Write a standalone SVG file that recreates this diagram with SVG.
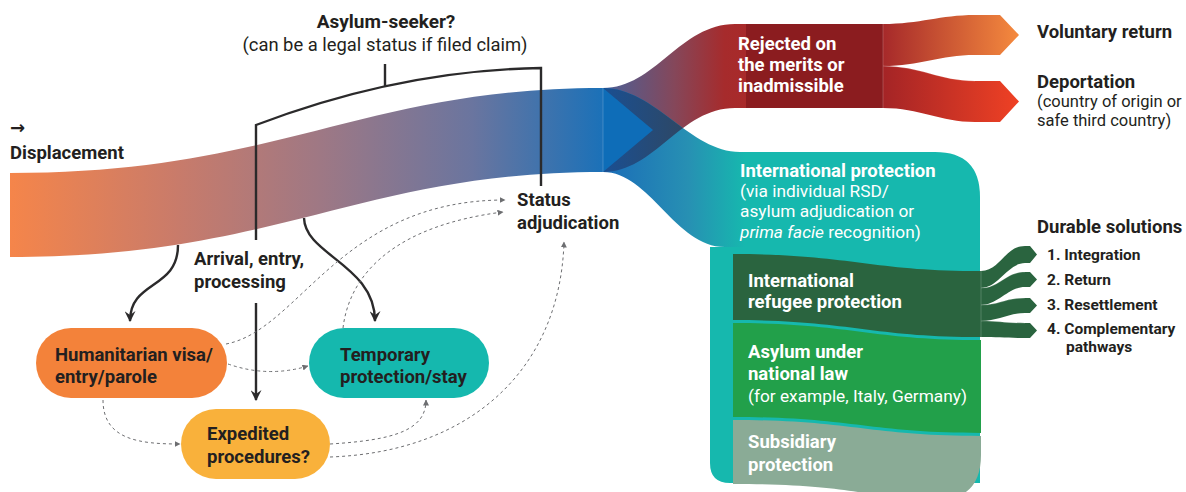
<svg xmlns="http://www.w3.org/2000/svg" width="1186" height="492" viewBox="0 0 1186 492">
<style>
.t{font-family:Roboto,"Liberation Sans",sans-serif;fill:#231f20}
.b{font-weight:700;font-size:18.5px}
.r{font-weight:400;font-size:17.3px}
.w{fill:#ffffff}
.d{font-weight:700;font-size:15.5px}
.sol{fill:none;stroke:#2b2a2b;stroke-width:2.4}
.dash{fill:none;stroke:#6d6e71;stroke-width:1;stroke-dasharray:3 3}
.sep{fill:none;stroke:#ffffff;stroke-opacity:0.25;stroke-width:0.8}
</style>
<defs>
<linearGradient id="gMain" gradientUnits="userSpaceOnUse" x1="10" y1="0" x2="603" y2="0">
<stop offset="0" stop-color="#f5854a"/>
<stop offset="0.28" stop-color="#c97b6a"/>
<stop offset="0.52" stop-color="#9f7884"/>
<stop offset="0.78" stop-color="#6a759f"/>
<stop offset="1" stop-color="#1b71b8"/>
</linearGradient>
<linearGradient id="gA" gradientUnits="userSpaceOnUse" x1="603" y1="0" x2="746" y2="0">
<stop offset="0" stop-color="#4a6098"/>
<stop offset="0.5" stop-color="#85475a"/>
<stop offset="0.85" stop-color="#a62b2c"/>
<stop offset="1" stop-color="#a82a2a"/>
</linearGradient>
<linearGradient id="gB" gradientUnits="userSpaceOnUse" x1="603" y1="0" x2="745" y2="0">
<stop offset="0" stop-color="#1b6cb8"/>
<stop offset="0.6" stop-color="#2790b3"/>
<stop offset="1" stop-color="#16b8ae"/>
</linearGradient>
<linearGradient id="gX" gradientUnits="userSpaceOnUse" x1="603" y1="0" x2="688" y2="0">
<stop offset="0" stop-color="#1a4f92"/>
<stop offset="1" stop-color="#2f4762"/>
</linearGradient>
<linearGradient id="gV" gradientUnits="userSpaceOnUse" x1="883" y1="0" x2="1019" y2="0">
<stop offset="0" stop-color="#a6292a"/>
<stop offset="1" stop-color="#f58a3e"/>
</linearGradient>
<linearGradient id="gD" gradientUnits="userSpaceOnUse" x1="883" y1="0" x2="1019" y2="0">
<stop offset="0" stop-color="#a42426"/>
<stop offset="1" stop-color="#ef4124"/>
</linearGradient>
<clipPath id="clipA">
<path d="M603,88 C655,88 680,24 735,24 L883,24 L883,108 L735,108 C680,108 655,172 603,172 Z"/>
</clipPath>
<marker id="mS" viewBox="0 0 10 10" refX="9" refY="5" markerWidth="11" markerHeight="11" markerUnits="userSpaceOnUse" orient="auto">
<path d="M10,5 L0,0 L3.5,5 L0,10 Z" fill="#2b2a2b"/>
</marker>
<marker id="mD" viewBox="0 0 6 6" refX="5.5" refY="3" markerWidth="6" markerHeight="6" markerUnits="userSpaceOnUse" orient="auto">
<path d="M6,3 L0,0 L0,6 Z" fill="#6d6e71"/>
</marker>
</defs>

<g id="displacement-flow">
<path d="M10,173 C280,173 360,88 603,88 L603,172 C360,172 280,257 10,257 Z" fill="url(#gMain)"/>
<text x="10" y="134" style="font-family:'DejaVu Sans',sans-serif;font-weight:700;font-size:18px;fill:#231f20">→</text>
<text class="t b" x="10" y="159">Displacement</text>
</g>

<g id="rejected">
<path d="M603,88 C655,88 680,24 735,24 L883,24 L883,108 L735,108 C680,108 655,172 603,172 Z" fill="url(#gA)"/>
<rect x="746" y="24" width="137" height="84" fill="#8b1c1f"/>
<text class="t b w" x="738" y="50">Rejected on</text>
<text class="t b w" x="738" y="71">the merits or</text>
<text class="t b w" x="738" y="92">inadmissible</text>
</g>

<g id="voluntary-return">
<path d="M883,24 C920,24 940,15 975,15 L1000,15 L1019,35 L1000,55 L975,55 C940,55 920,66 883,66 Z" fill="url(#gV)"/>
<text class="t b" x="1037" y="38">Voluntary return</text>
</g>

<g id="deportation">
<path d="M883,66 C920,66 940,81 975,81 L1000,81 L1019,101.5 L1000,122 L975,122 C940,122 920,108 883,108 Z" fill="url(#gD)"/>
<path class="sep" d="M883,24 V108 M883,66 C920,66 940,81 975,81"/>
<text class="t b" x="1037" y="88">Deportation</text>
<text class="t" x="1037" y="107" style="font-size:16.5px">(country of origin or</text>
<text class="t" x="1037" y="126" style="font-size:16.5px">safe third country)</text>
</g>

<g id="international-protection">
<path d="M725,152 L935,152 Q980,152 980,197 L980,483 L730,483 Q710,483 710,463 L710,247 L725,247 Z" fill="#16b8ae"/>
<path d="M603,88 C655,88 690,152 740,152 L760,152 L760,247 L725,247 C675,247 650,172 603,172 Z" fill="url(#gB)"/>
<path d="M603,88 C655,88 690,152 740,152 L760,152 L760,247 L725,247 C675,247 650,172 603,172 Z" fill="url(#gX)" clip-path="url(#clipA)"/>
<path d="M603,88 L653,130 L603,172 Z" fill="#0e6db8"/>
<path class="sep" d="M603,88 V172"/>
<text class="t b w" x="740" y="177">International protection</text>
<text class="t r w" x="740" y="197">(via individual RSD/</text>
<text class="t r w" x="740" y="217">asylum adjudication or</text>
<text class="t r w" x="740" y="238"><tspan font-style="italic">prima facie</tspan> recognition)</text>
</g>

<g id="refugee-protection">
<path d="M733,254 C850,254 870,271 981,271 L981,337 C870,337 850,320 733,320 Z" fill="#2a643f"/>
<path d="M981,271 C1000,271 1005,246 1025,246 L1030,246 L1037,254.5 L1030,263 L1025,263 C1008,263 998,288 981,288 Z" fill="#2a643f"/>
<path d="M981,288 C1000,288 1005,272 1025,272 L1030,272 L1037,279.5 L1030,287 L1025,287 C1008,287 998,305 981,305 Z" fill="#2a643f"/>
<path d="M981,305 C1000,305 1005,298 1025,298 L1030,298 L1037,305.5 L1030,313 L1025,313 C1008,313 998,321 981,321 Z" fill="#2a643f"/>
<path d="M981,321 C1000,321 1005,323 1025,323 L1030,323 L1037,330.5 L1030,338 L1025,338 C1008,338 998,337 981,337 Z" fill="#2a643f"/>
<path class="sep" d="M981,271 V337 M981,288 C1000,288 1005,272 1025,272 M981,305 C1000,305 1005,298 1025,298 M981,321 C1000,321 1005,323 1025,323"/>
<text class="t b w" x="748" y="287">International</text>
<text class="t b w" x="748" y="308">refugee protection</text>
</g>

<g id="durable-solutions">
<text class="t b" x="1037" y="233">Durable solutions</text>
<text class="t d" x="1047" y="260">1. Integration</text>
<text class="t d" x="1047" y="285">2. Return</text>
<text class="t d" x="1047" y="310">3. Resettlement</text>
<text class="t d" x="1047" y="334">4. Complementary</text>
<text class="t d" x="1066" y="352">pathways</text>
</g>

<g id="national-asylum">
<path d="M733,323 C850,323 870,340 981,340 L981,433 C870,433 850,417 733,417 Z" fill="#22a04a"/>
<text class="t b w" x="748" y="358">Asylum under</text>
<text class="t b w" x="748" y="380">national law</text>
<text class="t r w" x="748" y="402">(for example, Italy, Germany)</text>
</g>

<g id="subsidiary-protection">
<path d="M733,420 C850,420 870,436 981,436 L981,455 Q981,500 936,500 C860,497 850,484 733,484 Z" fill="#8aab96"/>
<text class="t b w" x="748" y="448">Subsidiary</text>
<text class="t b w" x="748" y="471">protection</text>
</g>

<g id="asylum-seeker">
<path class="sol" d="M256,240 L256,125 Q400,70 541,68 L541,186 M385,86 L385,64"/>
<text class="t" x="386" y="28" text-anchor="middle" style="font-weight:700;font-size:19px">Asylum-seeker?</text>
<text class="t" x="385" y="51" text-anchor="middle" style="font-size:18.4px">(can be a legal status if filed claim)</text>
</g>

<g id="arrival">
<text class="t b" x="194" y="265">Arrival, entry,</text>
<text class="t b" x="194" y="288">processing</text>
</g>

<g id="status-adjudication">
<text class="t b" x="517" y="206">Status</text>
<text class="t b" x="517" y="229">adjudication</text>
</g>

<g id="humanitarian">
<rect x="36" y="328" width="191" height="70" rx="35" fill="#f3823a"/>
<text class="t b" x="55" y="361">Humanitarian visa/</text>
<text class="t b" x="55" y="383">entry/parole</text>
</g>

<g id="temporary">
<rect x="309" y="328" width="180" height="70" rx="35" fill="#15b8ae"/>
<text class="t b" x="340" y="361">Temporary</text>
<text class="t b" x="340" y="383">protection/stay</text>
</g>

<g id="expedited">
<rect x="181" y="409" width="149" height="70" rx="35" fill="#f9b13b"/>
<text class="t b" x="207" y="440">Expedited</text>
<text class="t b" x="207" y="463">procedures?</text>
</g>

<g id="connectors">
<path class="sol" d="M178,245 C178,290 130,280 130,321" marker-end="url(#mS)"/>
<path class="sol" d="M304,218 C305,255 375,265 375,321" marker-end="url(#mS)"/>
<path class="sol" d="M256,303 L256,400" marker-end="url(#mS)"/>
<path class="dash" d="M226,344 C300,330 340,200 505,200" marker-end="url(#mD)"/>
<path class="dash" d="M343,328 C350,270 400,225 503,212" marker-end="url(#mD)"/>
<path class="dash" d="M228,364 Q268,378 308,366" marker-end="url(#mD)"/>
<path class="dash" d="M103,400 C103,440 140,444 180,444" marker-end="url(#mD)"/>
<path class="dash" d="M330,444 C395,440 426,430 426,400" marker-end="url(#mD)"/>
<path class="dash" d="M330,457 C470,452 560,370 564,242" marker-end="url(#mD)"/>
</g>
</svg>
